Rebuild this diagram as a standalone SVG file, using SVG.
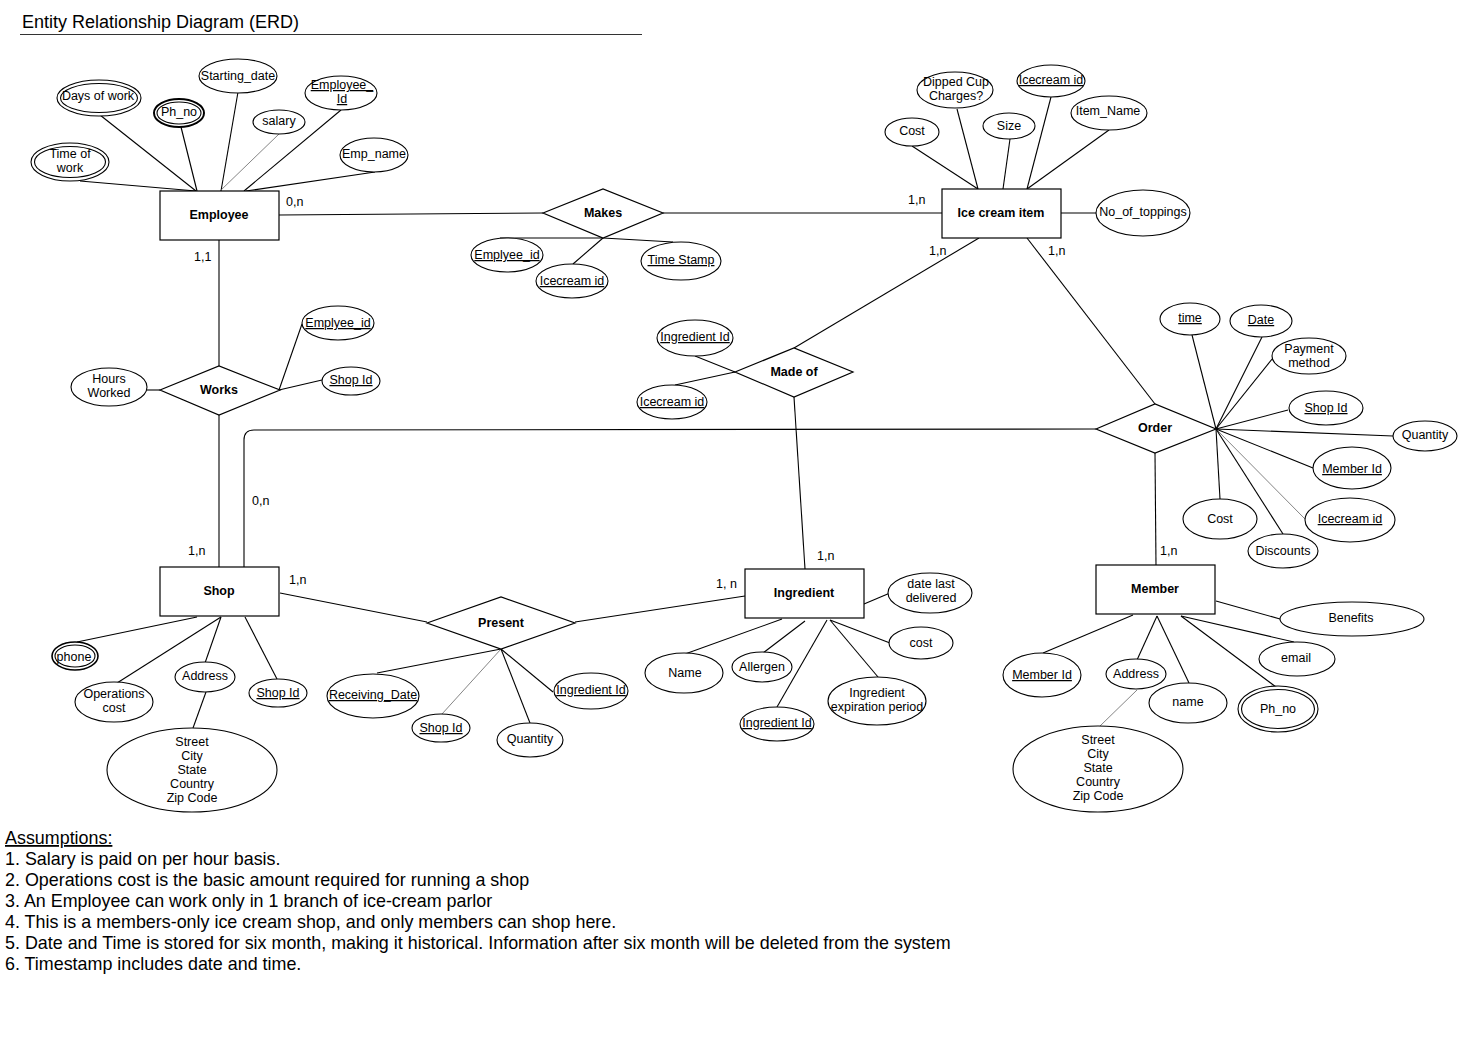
<svg xmlns="http://www.w3.org/2000/svg" width="1477" height="1056" viewBox="0 0 1477 1056">
<style>
text{font-family:"Liberation Sans",Arial,sans-serif;font-size:12.5px;fill:#000;text-anchor:middle}
.ent{fill:#fff;stroke:#000;stroke-width:1.2}
.rel{fill:#fff;stroke:#000;stroke-width:1.2}
.att{fill:#fff;stroke:#000;stroke-width:1.1}
.b{font-weight:bold}
.u{text-decoration:underline}
.l{text-anchor:start}
.c line,.c path,.c polyline{stroke:#000;stroke-width:1.1;fill:none}
.c .thin{stroke:#666;stroke-width:0.8}
.big{font-size:17.9px;text-anchor:start}
</style>
<rect width="1477" height="1056" fill="#fff"/>
<text x="22" y="28" style="font-size:18px;text-anchor:start">Entity Relationship Diagram (ERD)</text>
<line x1="20" y1="34.5" x2="642" y2="34.5" stroke="#333" stroke-width="1"/>

<g id="connectors" class="c">
<!-- employee attrs -->
<line x1="100" y1="115" x2="196" y2="191"/>
<line x1="181" y1="127" x2="197" y2="191"/>
<line x1="238" y1="92" x2="221" y2="191"/>
<line class="thin" x1="279" y1="134" x2="220" y2="191"/>
<line x1="341" y1="110" x2="244" y2="191"/>
<line x1="80" y1="181" x2="196" y2="191"/>
<line x1="375" y1="172" x2="246" y2="191"/>
<!-- makes -->
<line x1="279" y1="215" x2="543" y2="213"/>
<line x1="663" y1="213" x2="942" y2="213"/>
<line x1="500" y1="238" x2="603" y2="238"/>
<line x1="603" y1="238" x2="673" y2="242"/>
<line x1="573" y1="264" x2="603" y2="238"/>
<!-- ice cream attrs -->
<line x1="912" y1="146" x2="978" y2="189"/>
<line x1="957" y1="109" x2="978" y2="189"/>
<line x1="1010" y1="139" x2="1003" y2="189"/>
<line x1="1051" y1="97" x2="1027" y2="189"/>
<line x1="1109" y1="130" x2="1027" y2="189"/>
<line x1="1061" y1="213" x2="1096" y2="213"/>
<line x1="979" y1="238" x2="794" y2="348"/>
<line x1="1027" y1="238" x2="1155" y2="404"/>
<!-- works -->
<line x1="219" y1="240" x2="219" y2="366"/>
<line x1="219" y1="414" x2="219" y2="567"/>
<line x1="147" y1="390" x2="160" y2="390"/>
<line x1="279" y1="390" x2="302" y2="324"/>
<line x1="279" y1="390" x2="322" y2="380"/>
<path d="M1096 429 L254 430 Q244 430 244 440 L244 567"/>
<!-- made of -->
<line x1="695" y1="356" x2="735" y2="372"/>
<line x1="675" y1="385" x2="735" y2="372"/>
<line x1="794" y1="397" x2="805" y2="569"/>
<!-- order -->
<line x1="1155" y1="453" x2="1156" y2="565"/>
<line x1="1192" y1="335" x2="1216" y2="429"/>
<line x1="1262" y1="337" x2="1216" y2="429"/>
<line x1="1273" y1="358" x2="1216" y2="429"/>
<line x1="1288" y1="410" x2="1216" y2="429"/>
<line x1="1393" y1="436" x2="1216" y2="429"/>
<line x1="1313" y1="468" x2="1216" y2="429"/>
<line class="thin" x1="1305" y1="519" x2="1216" y2="429"/>
<line x1="1220" y1="499" x2="1216" y2="429"/>
<line x1="1283" y1="534" x2="1216" y2="429"/>
<!-- shop -->
<line x1="77" y1="642" x2="197" y2="617"/>
<line x1="117" y1="683" x2="221" y2="617"/>
<line x1="205" y1="663" x2="221" y2="617"/>
<line x1="206" y1="692" x2="193" y2="728"/>
<line x1="277" y1="679" x2="245" y2="617"/>
<line x1="280" y1="593" x2="427" y2="622"/>
<line x1="575" y1="622" x2="745" y2="596"/>
<!-- present -->
<line x1="377" y1="673" x2="501" y2="649"/>
<line class="thin" x1="442" y1="714" x2="501" y2="649"/>
<line x1="530" y1="723" x2="501" y2="649"/>
<line x1="553" y1="692" x2="501" y2="649"/>
<!-- ingredient -->
<line x1="864" y1="604" x2="890" y2="593"/>
<line x1="830" y1="620" x2="890" y2="643"/>
<line x1="830" y1="620" x2="878" y2="677"/>
<line x1="777" y1="707" x2="827" y2="620"/>
<line x1="763" y1="653" x2="805" y2="621"/>
<line x1="685" y1="654" x2="782" y2="619"/>
<!-- member -->
<line x1="1216" y1="601" x2="1280" y2="619"/>
<line x1="1181" y1="616" x2="1294" y2="642"/>
<line x1="1181" y1="616" x2="1276" y2="687"/>
<line x1="1157" y1="616" x2="1189" y2="683"/>
<line x1="1137" y1="660" x2="1157" y2="616"/>
<line x1="1043" y1="653" x2="1133" y2="615"/>
<line class="thin" x1="1137" y1="690" x2="1100" y2="726"/>
</g>

<g id="cardinalities">
<text class="l" x="286" y="206">0,n</text>
<text class="l" x="908" y="204">1,n</text>
<text class="l" x="194" y="261">1,1</text>
<text class="l" x="929" y="255">1,n</text>
<text class="l" x="1048" y="255">1,n</text>
<text class="l" x="252" y="505">0,n</text>
<text class="l" x="188" y="555">1,n</text>
<text class="l" x="289" y="584">1,n</text>
<text class="l" x="716" y="588">1, n</text>
<text class="l" x="817" y="560">1,n</text>
<text class="l" x="1160" y="555">1,n</text>
</g>

<!-- entities -->
<g id="employee"><rect class="ent" x="160" y="191" width="119" height="49"/><text class="b" x="219" y="219">Employee</text></g>
<g id="icecream-item"><rect class="ent" x="942" y="189" width="119" height="49"/><text class="b" x="1001" y="217">Ice cream item</text></g>
<g id="shop"><rect class="ent" x="160" y="567" width="119" height="49"/><text class="b" x="219" y="595">Shop</text></g>
<g id="ingredient"><rect class="ent" x="745" y="569" width="119" height="49"/><text class="b" x="804" y="597">Ingredient</text></g>
<g id="member"><rect class="ent" x="1096" y="565" width="119" height="49"/><text class="b" x="1155" y="593">Member</text></g>

<!-- relationships -->
<g id="makes"><polygon class="rel" points="543,213 603,189 663,213 603,238"/><text class="b" x="603" y="217">Makes</text></g>
<g id="works"><polygon class="rel" points="160,390 219,366 280,390 219,415"/><text class="b" x="219" y="394">Works</text></g>
<g id="made-of"><polygon class="rel" points="735,372 794,348 853,372 794,397"/><text class="b" x="794" y="376">Made of</text></g>
<g id="order"><polygon class="rel" points="1096,429 1155,404 1216,429 1155,453"/><text class="b" x="1155" y="432">Order</text></g>
<g id="present"><polygon class="rel" points="427,623 501,597 575,623 501,649"/><text class="b" x="501" y="627">Present</text></g>

<!-- employee attributes -->
<g id="a-days-of-work"><ellipse class="att" cx="99" cy="98" rx="42" ry="18"/><ellipse class="att" cx="99" cy="98" rx="38.5" ry="14.5"/><text x="98" y="100">Days of work</text></g>
<g id="a-emp-phno"><ellipse class="att" cx="179" cy="113" rx="25" ry="14" style="stroke-width:2"/><ellipse class="att" cx="179" cy="113" rx="22" ry="11"/><text x="179" y="116">Ph_no</text></g>
<g id="a-starting-date"><ellipse class="att" cx="238" cy="76" rx="39" ry="17"/><text x="238" y="80">Starting_date</text></g>
<g id="a-salary"><ellipse class="att" cx="279" cy="122" rx="26" ry="12"/><text x="279" y="125">salary</text></g>
<g id="a-employee-id"><ellipse class="att" cx="341" cy="93" rx="36" ry="17"/><text class="u" x="342" y="89">Employee_</text><text class="u" x="342" y="103">Id</text></g>
<g id="a-time-of-work"><ellipse class="att" cx="70" cy="162" rx="39" ry="19"/><ellipse class="att" cx="70" cy="162" rx="35.5" ry="15.5"/><text x="70" y="158">Time of</text><text x="70" y="172">work</text></g>
<g id="a-emp-name"><ellipse class="att" cx="374" cy="155" rx="34" ry="17"/><text x="374" y="158">Emp_name</text></g>

<!-- makes attributes -->
<g id="a-makes-emp"><ellipse class="att" cx="507" cy="255" rx="36" ry="17"/><text class="u" x="507" y="259">Emplyee_id</text></g>
<g id="a-makes-ice"><ellipse class="att" cx="572" cy="281" rx="36" ry="17"/><text class="u" x="572" y="285">Icecream id</text></g>
<g id="a-makes-ts"><ellipse class="att" cx="681" cy="261" rx="40" ry="19"/><text class="u" x="681" y="264">Time Stamp</text></g>

<!-- ice cream item attributes -->
<g id="a-ic-cost"><ellipse class="att" cx="912" cy="132" rx="27" ry="14"/><text x="912" y="135">Cost</text></g>
<g id="a-ic-dipped"><ellipse class="att" cx="955" cy="90" rx="38" ry="18"/><text x="956" y="86">Dipped Cup</text><text x="956" y="100">Charges?</text></g>
<g id="a-ic-size"><ellipse class="att" cx="1009" cy="126" rx="26" ry="13"/><text x="1009" y="130">Size</text></g>
<g id="a-ic-id"><ellipse class="att" cx="1051" cy="81" rx="34" ry="16"/><text class="u" x="1051" y="84">Icecream id</text></g>
<g id="a-ic-name"><ellipse class="att" cx="1109" cy="113" rx="38" ry="17"/><text x="1108" y="115">Item_Name</text></g>
<g id="a-ic-toppings"><ellipse class="att" cx="1143" cy="213" rx="47" ry="23"/><text x="1143" y="216">No_of_toppings</text></g>

<!-- works attributes -->
<g id="a-hours"><ellipse class="att" cx="109" cy="387" rx="38" ry="19"/><text x="109" y="383">Hours</text><text x="109" y="397">Worked</text></g>
<g id="a-works-emp"><ellipse class="att" cx="338" cy="323" rx="36" ry="17"/><text class="u" x="338" y="327">Emplyee_id</text></g>
<g id="a-works-shop"><ellipse class="att" cx="351" cy="381" rx="29" ry="14"/><text class="u" x="351" y="384">Shop Id</text></g>

<!-- made of attributes -->
<g id="a-madeof-ing"><ellipse class="att" cx="695" cy="338" rx="38" ry="18"/><text class="u" x="695" y="341">Ingredient Id</text></g>
<g id="a-madeof-ice"><ellipse class="att" cx="672" cy="402" rx="35" ry="17"/><text class="u" x="672" y="406">Icecream id</text></g>

<!-- order attributes -->
<g id="a-o-time"><ellipse class="att" cx="1190" cy="319" rx="30" ry="16"/><text class="u" x="1190" y="322">time</text></g>
<g id="a-o-date"><ellipse class="att" cx="1261" cy="321" rx="31" ry="16"/><text class="u" x="1261" y="324">Date</text></g>
<g id="a-o-pay"><ellipse class="att" cx="1309" cy="356" rx="37" ry="18"/><text x="1309" y="353">Payment</text><text x="1309" y="367">method</text></g>
<g id="a-o-shop"><ellipse class="att" cx="1326" cy="408" rx="37" ry="17"/><text class="u" x="1326" y="412">Shop Id</text></g>
<g id="a-o-qty"><ellipse class="att" cx="1425" cy="436" rx="32" ry="15"/><text x="1425" y="439">Quantity</text></g>
<g id="a-o-member"><ellipse class="att" cx="1352" cy="468" rx="39" ry="21"/><text class="u" x="1352" y="473">Member Id</text></g>
<g id="a-o-ice"><ellipse class="att" cx="1350" cy="520" rx="45" ry="22"/><text class="u" x="1350" y="523">Icecream id</text></g>
<g id="a-o-cost"><ellipse class="att" cx="1220" cy="519" rx="37" ry="20"/><text x="1220" y="523">Cost</text></g>
<g id="a-o-disc"><ellipse class="att" cx="1283" cy="551" rx="35" ry="17"/><text x="1283" y="555">Discounts</text></g>

<!-- shop attributes -->
<g id="a-s-phone"><ellipse class="att" cx="75" cy="656" rx="23" ry="14" style="stroke-width:1.6"/><ellipse class="att" cx="75" cy="656" rx="20" ry="11"/><text x="74" y="661">phone</text></g>
<g id="a-s-ops"><ellipse class="att" cx="114" cy="702" rx="39" ry="20"/><text x="114" y="698">Operations</text><text x="114" y="712">cost</text></g>
<g id="a-s-addr"><ellipse class="att" cx="205" cy="677" rx="30" ry="15"/><text x="205" y="680">Address</text></g>
<g id="a-s-street"><ellipse class="att" cx="192" cy="770" rx="85" ry="42"/><text x="192" y="746">Street</text><text x="192" y="760">City</text><text x="192" y="774">State</text><text x="192" y="788">Country</text><text x="192" y="802">Zip Code</text></g>
<g id="a-s-id"><ellipse class="att" cx="278" cy="693" rx="29" ry="14"/><text class="u" x="278" y="697">Shop Id</text></g>

<!-- present attributes -->
<g id="a-p-recv"><ellipse class="att" cx="373" cy="696" rx="46" ry="22"/><text class="u" x="373" y="699">Receiving_Date</text></g>
<g id="a-p-shop"><ellipse class="att" cx="441" cy="728" rx="29" ry="14"/><text class="u" x="441" y="732">Shop Id</text></g>
<g id="a-p-qty"><ellipse class="att" cx="530" cy="740" rx="33" ry="17"/><text x="530" y="743">Quantity</text></g>
<g id="a-p-ing"><ellipse class="att" cx="591" cy="691" rx="37" ry="18"/><text class="u" x="591" y="694">Ingredient Id</text></g>

<!-- ingredient attributes -->
<g id="a-i-date"><ellipse class="att" cx="930" cy="593" rx="42" ry="20"/><text x="931" y="588">date last</text><text x="931" y="602">delivered</text></g>
<g id="a-i-cost"><ellipse class="att" cx="921" cy="643" rx="32" ry="16"/><text x="921" y="647">cost</text></g>
<g id="a-i-exp"><ellipse class="att" cx="877" cy="701" rx="49" ry="24"/><text x="877" y="697">Ingredient</text><text x="877" y="711">expiration period</text></g>
<g id="a-i-id"><ellipse class="att" cx="777" cy="724" rx="37" ry="17"/><text class="u" x="777" y="727">Ingredient Id</text></g>
<g id="a-i-allergen"><ellipse class="att" cx="762" cy="667" rx="30" ry="15"/><text x="762" y="671">Allergen</text></g>
<g id="a-i-name"><ellipse class="att" cx="684" cy="673" rx="39" ry="20"/><text x="685" y="677">Name</text></g>

<!-- member attributes -->
<g id="a-m-benefits"><ellipse class="att" cx="1352" cy="619" rx="72" ry="17"/><text x="1351" y="622">Benefits</text></g>
<g id="a-m-email"><ellipse class="att" cx="1297" cy="659" rx="38" ry="17"/><text x="1296" y="662">email</text></g>
<g id="a-m-phno"><ellipse class="att" cx="1278" cy="709" rx="40" ry="23"/><ellipse class="att" cx="1278" cy="709" rx="36.5" ry="19.5"/><text x="1278" y="713">Ph_no</text></g>
<g id="a-m-name"><ellipse class="att" cx="1188" cy="703" rx="39" ry="20"/><text x="1188" y="706">name</text></g>
<g id="a-m-addr"><ellipse class="att" cx="1136" cy="674" rx="30" ry="15"/><text x="1136" y="678">Address</text></g>
<g id="a-m-id"><ellipse class="att" cx="1042" cy="675" rx="39" ry="22"/><text class="u" x="1042" y="679">Member Id</text></g>
<g id="a-m-street"><ellipse class="att" cx="1098" cy="769" rx="85" ry="43"/><text x="1098" y="744">Street</text><text x="1098" y="758">City</text><text x="1098" y="772">State</text><text x="1098" y="786">Country</text><text x="1098" y="800">Zip Code</text></g>

<!-- assumptions -->
<g id="assumptions">
<text class="big u" x="5" y="844">Assumptions:</text>
<text class="big" x="5" y="865">1. Salary is paid on per hour basis.</text>
<text class="big" x="5" y="886">2. Operations cost is the basic amount required for running a shop</text>
<text class="big" x="5" y="907">3. An Employee can work only in 1 branch of ice-cream parlor</text>
<text class="big" x="5" y="928">4. This is a members-only ice cream shop, and only members can shop here.</text>
<text class="big" x="5" y="949">5. Date and Time is stored for six month, making it historical. Information after six month will be deleted from the system</text>
<text class="big" x="5" y="970">6. Timestamp includes date and time.</text>
</g>
</svg>
